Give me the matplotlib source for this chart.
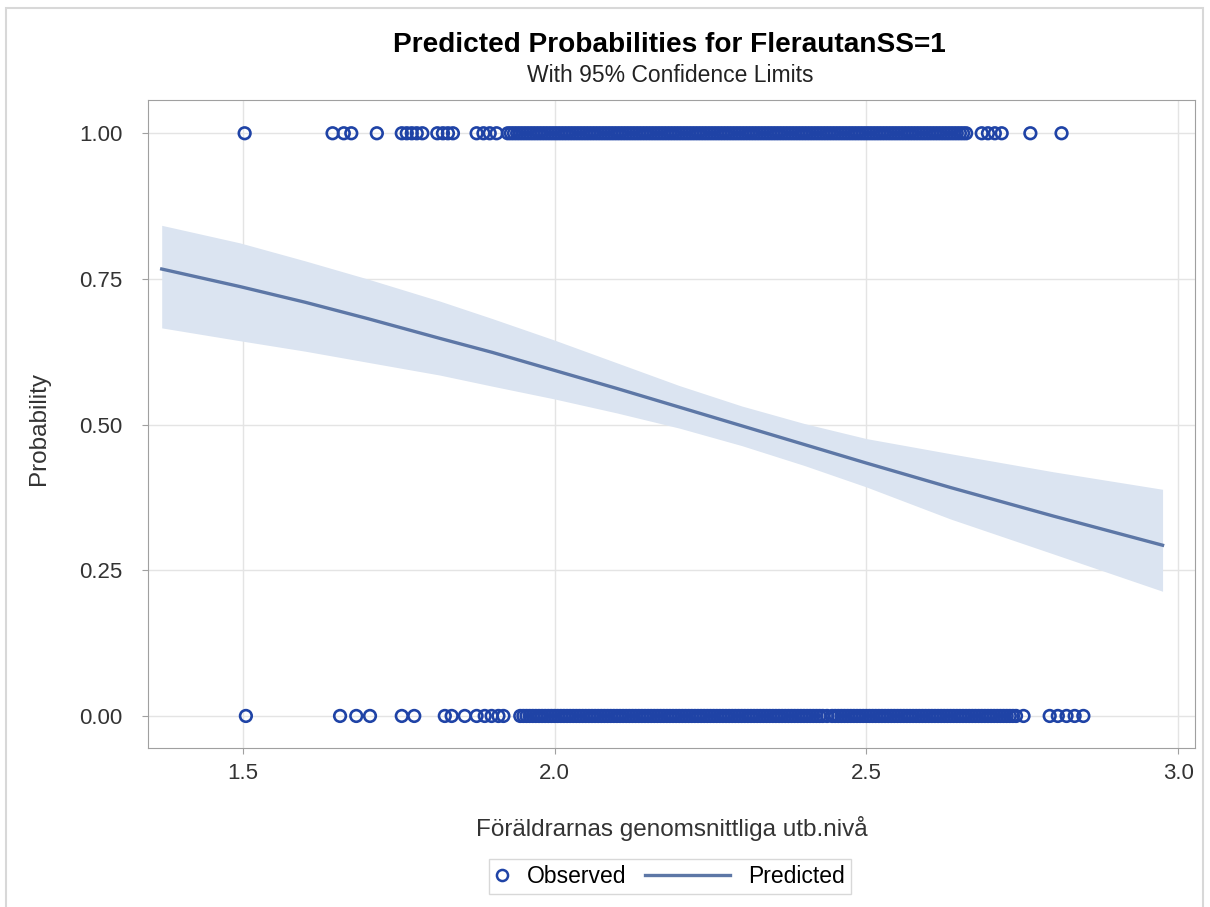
import matplotlib.pyplot as plt
from matplotlib.lines import Line2D
from matplotlib.patches import Rectangle
from matplotlib.legend_handler import HandlerBase

plt.rcParams['font.family'] = ['Liberation Sans', 'DejaVu Sans']

# predicted curve and 95% limits
pred_x = [1.37, 1.495, 1.6, 1.7, 1.816, 1.9, 2.0, 2.1, 2.2, 2.3, 2.4, 2.5,
          2.635, 2.8, 2.975]
pred_p = [0.767, 0.737, 0.710, 0.682, 0.648, 0.624, 0.593, 0.562, 0.530,
          0.498, 0.466, 0.434, 0.392, 0.343, 0.293]
upper = [0.842, 0.812, 0.781, 0.750, 0.712, 0.682, 0.645, 0.606, 0.567,
         0.532, 0.502, 0.476, 0.450, 0.419, 0.389]
lower = [0.666, 0.644, 0.626, 0.607, 0.585, 0.566, 0.544, 0.520, 0.494,
         0.464, 0.430, 0.393, 0.338, 0.278, 0.214]

# observed outcomes, y = 1
obs1_x = [1.503, 1.644, 1.662, 1.674, 1.715, 1.755, 1.763, 1.771, 1.779, 1.788,
          1.812, 1.821, 1.829, 1.837, 1.875, 1.886, 1.896, 1.907,
          1.925, 1.930, 1.935, 1.940, 1.945, 1.950, 1.955, 1.960, 1.965, 1.970,
          1.975, 1.980, 1.985, 1.990, 1.995, 2.000, 2.005, 2.010, 2.015, 2.020,
          2.025, 2.030, 2.035, 2.040, 2.045, 2.050, 2.055, 2.060, 2.065, 2.070,
          2.075, 2.080, 2.085, 2.090, 2.095, 2.100, 2.105, 2.110, 2.115, 2.120,
          2.125, 2.130, 2.135, 2.140, 2.145, 2.150, 2.155, 2.160, 2.165, 2.170,
          2.175, 2.180, 2.185, 2.190, 2.195, 2.200, 2.205, 2.210, 2.215, 2.220,
          2.225, 2.230, 2.235, 2.240, 2.245, 2.250, 2.255, 2.260, 2.265, 2.270,
          2.275, 2.280, 2.285, 2.290, 2.295, 2.300, 2.305, 2.310, 2.315, 2.320,
          2.325, 2.330, 2.335, 2.340, 2.345, 2.350, 2.355, 2.360, 2.365, 2.370,
          2.375, 2.380, 2.385, 2.390, 2.395, 2.400, 2.405, 2.410, 2.415, 2.420,
          2.425, 2.430, 2.435, 2.440, 2.445, 2.450, 2.455, 2.460, 2.465, 2.470,
          2.475, 2.480, 2.485, 2.490, 2.495, 2.500, 2.505, 2.510, 2.515, 2.520,
          2.525, 2.530, 2.535, 2.540, 2.545, 2.550, 2.555, 2.560, 2.565, 2.570,
          2.575, 2.580, 2.585, 2.590, 2.595, 2.600, 2.605, 2.610, 2.615, 2.620,
          2.625, 2.630, 2.635, 2.640, 2.645, 2.650, 2.655, 2.660,
          2.685, 2.695, 2.706, 2.717, 2.763, 2.813]

# observed outcomes, y = 0
obs0_x = [1.505, 1.656, 1.682, 1.704, 1.755, 1.775,
          1.824, 1.835, 1.856, 1.875, 1.888, 1.899, 1.910, 1.918,
          1.945, 1.950, 1.955, 1.960, 1.965, 1.970, 1.975, 1.980, 1.985, 1.990,
          1.995, 2.000, 2.005, 2.010, 2.015, 2.020, 2.025, 2.030, 2.035, 2.040,
          2.045, 2.050, 2.055, 2.060, 2.065, 2.070, 2.075, 2.080, 2.085, 2.090,
          2.095, 2.100, 2.105, 2.110, 2.115, 2.120, 2.125, 2.130, 2.135, 2.140,
          2.145, 2.150, 2.155, 2.160, 2.165, 2.170, 2.175, 2.180, 2.185, 2.190,
          2.195, 2.200, 2.205, 2.210, 2.215, 2.220, 2.225, 2.230, 2.235, 2.240,
          2.245, 2.250, 2.255, 2.260, 2.265, 2.270, 2.275, 2.280, 2.285, 2.290,
          2.295, 2.300, 2.305, 2.310, 2.315, 2.320, 2.325, 2.330, 2.335, 2.340,
          2.345, 2.350, 2.355, 2.360, 2.365, 2.370, 2.375, 2.380, 2.385, 2.390,
          2.395, 2.400, 2.405, 2.410, 2.415, 2.420, 2.425, 2.430, 2.437, 2.445,
          2.450, 2.455, 2.460, 2.465, 2.470, 2.475, 2.480, 2.485, 2.490, 2.495,
          2.500, 2.505, 2.510, 2.515, 2.520, 2.525, 2.530, 2.535, 2.540, 2.545,
          2.550, 2.555, 2.560, 2.565, 2.570, 2.575, 2.580, 2.585, 2.590, 2.595,
          2.600, 2.605, 2.610, 2.615, 2.620, 2.625, 2.630, 2.635, 2.640, 2.645,
          2.650, 2.655, 2.660, 2.665, 2.670, 2.675, 2.680, 2.685, 2.690, 2.695,
          2.700, 2.705, 2.710, 2.715, 2.720, 2.725, 2.730, 2.735, 2.740,
          2.752, 2.794, 2.807, 2.821, 2.834, 2.848]

MARK = '#1f43a6'
LINE = '#5d77a6'
BAND = '#dbe4f1'


class LongLine(HandlerBase):
    # legend line that reaches left into the column gap
    def create_artists(self, legend, orig_handle, xdescent, ydescent,
                       width, height, fontsize, trans):
        y = height / 2 - ydescent
        ln = Line2D([width - 3.7 * fontsize, width], [y, y], color=LINE,
                    lw=2.4, transform=trans)
        return [ln]


fig = plt.figure(figsize=(12.1, 9.07), dpi=100)
ax = fig.add_axes([0.1223, 0.1753, 0.8653, 0.7144])

ax.fill_between(pred_x, lower, upper, color=BAND, lw=0, zorder=1)
ax.plot(pred_x, pred_p, color=LINE, lw=2.4, zorder=2)
ax.scatter(obs1_x, [1.0] * len(obs1_x), s=70, facecolors='none',
           edgecolors=MARK, linewidths=1.9, zorder=3)
ax.scatter(obs0_x, [0.0] * len(obs0_x), s=70, facecolors='none',
           edgecolors=MARK, linewidths=1.9, zorder=3)

ax.set_xlim(1.348, 3.027)
ax.set_ylim(-0.055, 1.057)
ax.set_xticks([1.5, 2.0, 2.5, 3.0])
ax.set_xticklabels(['1.5', '2.0', '2.5', '3.0'])
ax.set_yticks([0, 0.25, 0.5, 0.75, 1.0])
ax.set_yticklabels(['0.00', '0.25', '0.50', '0.75', '1.00'])
ax.grid(True, color='#e4e4e4', lw=1)
ax.set_axisbelow(True)
for s in ax.spines.values():
    s.set_color('#a0a0a0')
ax.tick_params(colors='#a0a0a0', labelcolor='#333333', labelsize=16,
               length=4.5)
ax.tick_params(axis='x', pad=6)
ax.tick_params(axis='y', pad=14)

ax.set_xlabel('Föräldrarnas genomsnittliga utb.nivå', fontsize=17.5,
              color='#333333')
ax.xaxis.set_label_coords(0.5, -0.105)
ax.set_ylabel('Probability', fontsize=17.5, color='#333333')
ax.yaxis.set_label_coords(-0.094, 0.493)

fig.text(0.553, 0.9505, 'Predicted Probabilities for FlerautanSS=1',
         ha='center', va='center', fontsize=20.2, fontweight='bold')
fig.text(0.554, 0.917, 'With 95% Confidence Limits', ha='center',
         va='center', fontsize=16.5, color='#222222')

obs_h = Line2D([], [], marker='o', ls='none', mfc='none', mec=MARK,
               mew=1.8, ms=8)
pred_h = Line2D([], [], color=LINE, lw=2.4)
fig.legend([obs_h, pred_h], ['Observed', 'Predicted'], loc='center',
           bbox_to_anchor=(0.5537, 0.0336), ncol=2, frameon=True,
           fancybox=False, edgecolor='#cfcfcf', fontsize=16.5,
           handlelength=0.6, handletextpad=0.8, columnspacing=3.9,
           borderpad=0.25, handler_map={pred_h: LongLine()})

fig.patches.append(Rectangle((0.0047, -0.05), 0.9895, 1.0415,
                             transform=fig.transFigure, fill=False,
                             edgecolor='#d8d8d8', lw=1.5))

fig.savefig('out.png', dpi=100)
